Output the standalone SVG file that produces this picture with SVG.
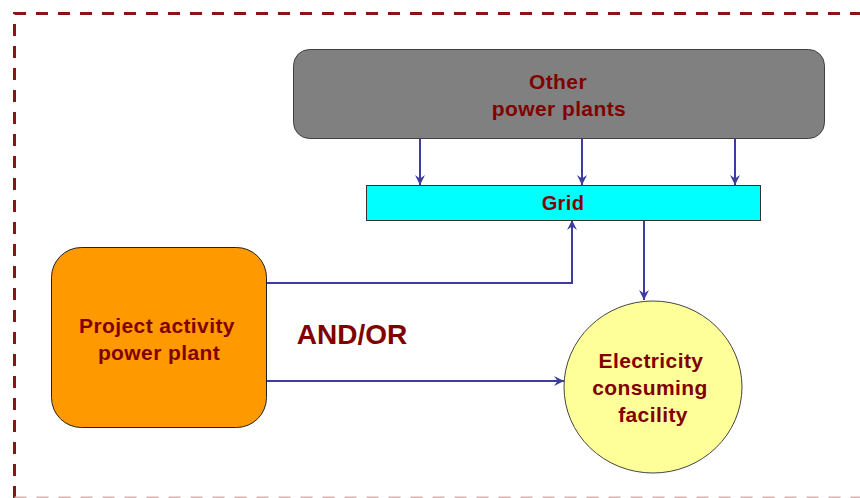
<svg xmlns="http://www.w3.org/2000/svg" width="860" height="498" viewBox="0 0 860 498">
<defs>
<style>
.lbl{font-family:"Liberation Sans",Arial,sans-serif;font-weight:bold;fill:#800000;text-anchor:middle;letter-spacing:0.4px}
.con{fill:none;stroke:#3D3DA0;stroke-width:2}
</style>
<marker id="ah" viewBox="0 0 10 10" refX="10" refY="5" markerWidth="11" markerHeight="10" markerUnits="userSpaceOnUse" orient="auto">
<path d="M0,0 L10,5 L0,10 L3.5,5 Z" fill="#3D3DA0"/>
</marker>
</defs>
<rect x="0" y="0" width="860" height="498" fill="#ffffff"/>
<path d="M14.5,498 L14.5,13.5 L870,13.5" fill="none" stroke="#8B1414" stroke-width="3" stroke-dasharray="12,10"/>
<path d="M14.5,497.5 L870,497.5" fill="none" stroke="#D8B4B4" stroke-width="2" stroke-dasharray="12,10"/>
<g id="connectors">
<line class="con" x1="420" y1="138" x2="420" y2="185" marker-end="url(#ah)"/>
<line class="con" x1="582" y1="138" x2="582" y2="185" marker-end="url(#ah)"/>
<line class="con" x1="735" y1="138" x2="735" y2="185" marker-end="url(#ah)"/>
<line class="con" x1="644" y1="220" x2="644" y2="300" marker-end="url(#ah)"/>
<polyline class="con" points="267,283 572,283 572,220" marker-end="url(#ah)"/>
<line class="con" x1="267" y1="381" x2="564" y2="381" marker-end="url(#ah)"/>
</g>
<g id="other-plants">
<rect x="293.5" y="49.5" width="531" height="89" rx="16" fill="#808080" stroke="#404040" stroke-width="1"/>
<text class="lbl" x="558" y="89" font-size="21">Other</text>
<text class="lbl" x="559" y="116" font-size="21">power plants</text>
</g>
<g id="grid">
<rect x="366.5" y="185.5" width="394" height="35" fill="#00FFFF" stroke="#333333" stroke-width="1"/>
<text class="lbl" x="563" y="210" font-size="20">Grid</text>
</g>
<g id="project">
<rect x="51.5" y="247.5" width="215" height="180" rx="30" fill="#FF9900" stroke="#222222" stroke-width="1"/>
<text class="lbl" x="157" y="333" font-size="21">Project activity</text>
<text class="lbl" x="159" y="360" font-size="21">power plant</text>
</g>
<g id="consumer">
<ellipse cx="653" cy="387" rx="89" ry="86" fill="#FFFF99" stroke="#444444" stroke-width="1"/>
<text class="lbl" x="651" y="368" font-size="21">Electricity</text>
<text class="lbl" x="650" y="395" font-size="21">consuming</text>
<text class="lbl" x="653" y="422" font-size="21">facility</text>
</g>
<text class="lbl" x="352" y="344" font-size="28" style="letter-spacing:0">AND/OR</text>
</svg>
